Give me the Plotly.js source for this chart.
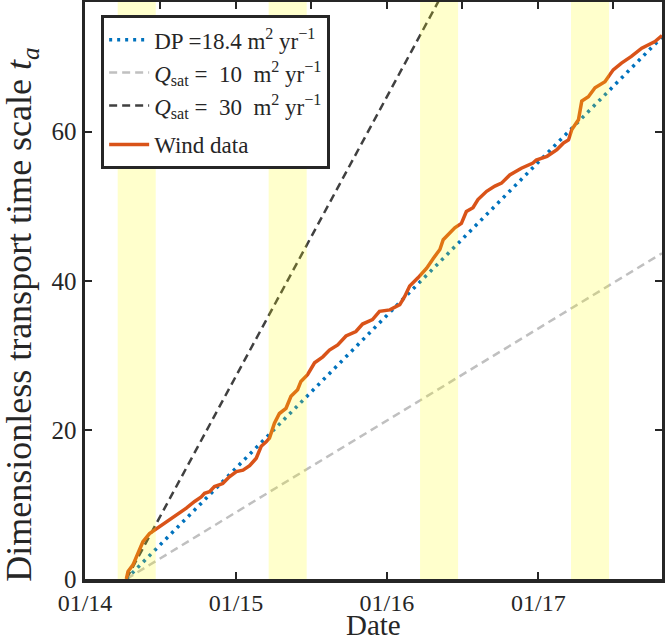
<!DOCTYPE html>
<html>
<head>
<meta charset="utf-8">
<script src="https://cdn.plot.ly/plotly-3.0.1.min.js"></script>
<style>
  html, body { margin: 0; padding: 0; background: #fff; }
  #chart { width: 665px; height: 642px; }
</style>
</head>
<body>
<div id="chart"></div>
<script>
    'use strict';

    // Wind data: cumulative dimensionless transport time scale
    const windDates = [
        '2014-04-11', '2014-04-15', '2014-04-27', '2014-05-09', '2014-05-21', '2014-06-06',
        '2014-06-22', '2014-07-16', '2014-08-09', '2014-09-03', '2014-09-23', '2014-10-09',
        '2014-10-17', '2014-10-29', '2014-11-10', '2014-11-30', '2014-12-16', '2015-01-02',
        '2015-01-18', '2015-02-03', '2015-02-19', '2015-03-03', '2015-03-15', '2015-03-23',
        '2015-04-04', '2015-04-16', '2015-05-02', '2015-05-14', '2015-05-30', '2015-06-07',
        '2015-06-23', '2015-07-10', '2015-07-30', '2015-08-15', '2015-09-04', '2015-09-24',
        '2015-10-18', '2015-11-03', '2015-11-27', '2015-12-14', '2016-01-08', '2016-02-01',
        '2016-02-13', '2016-02-25', '2016-03-16', '2016-04-06', '2016-04-22', '2016-05-08',
        '2016-05-16', '2016-06-13', '2016-06-29', '2016-07-11', '2016-07-27', '2016-08-08',
        '2016-08-29', '2016-09-18', '2016-10-04', '2016-10-24', '2016-11-21', '2016-12-19',
        '2016-12-27', '2017-01-22', '2017-02-15', '2017-03-03', '2017-03-15', '2017-03-23',
        '2017-04-08', '2017-04-16', '2017-05-02', '2017-05-18', '2017-06-11', '2017-07-01',
        '2017-07-21', '2017-08-14', '2017-09-08', '2017-09-28', '2017-10-10', '2017-10-27'
    ];
    const windValues = [
        0, 1.0, 1.9, 3.4, 5.0, 6.1,
        6.7, 7.7, 8.6, 9.5, 10.4, 11.0,
        11.5, 11.7, 12.4, 12.8, 13.7, 14.4,
        14.6, 15.2, 16.2, 17.8, 18.4, 18.9,
        20.9, 22.2, 22.9, 24.5, 25.4, 26.5,
        27.4, 29.0, 29.8, 30.7, 31.4, 32.6,
        33.2, 34.2, 34.8, 35.9, 36.1, 36.8,
        37.9, 39.3, 40.4, 41.7, 43.0, 44.2,
        45.5, 47.1, 47.7, 49.3, 49.8, 50.9,
        52.0, 52.7, 53.1, 54.2, 55.1, 55.8,
        56.2, 56.7, 57.6, 58.5, 58.9, 60.3,
        61.6, 64.1, 64.7, 65.9, 66.7, 68.3,
        69.2, 70.1, 71.2, 71.7, 72.1, 72.9
    ];

    // straight reference lines: start and end of record
    const lineDates = ['2014-04-11', '2017-10-27'];
    const dpValues = [0, 72.7];
    const q10Values = [0, 43.7];
    const q30Values = [0, 133];

    // spring periods (shaded)
    const bandStarts = ['2014-03-21', '2015-03-21', '2016-03-21', '2017-03-21'];
    const bandEnds = ['2014-06-21', '2015-06-21', '2016-06-21', '2017-06-21'];

    const xRange = ['2014-01-01', '2017-10-27'];
    const yRange = [0, 77.4];
    const yTicks = [0, 20, 40, 60];

    const FONT = '"Liberation Serif", "Times New Roman", serif';
    const AXIS_COLOR = '#262626';

    const data = [
        {
            type: 'scatter', mode: 'lines', x: lineDates, y: q10Values,
            name: '<i>Q</i><sub>sat</sub> =  10  m<sup>2</sup> yr<sup>\u22121</sup>',
            legendrank: 2, legendgroup: 'ref',
            line: {color: '#c0c0c0', width: 2.5, dash: '8px,5px'}
        },
        {
            type: 'scatter', mode: 'lines', x: lineDates, y: q30Values,
            name: '<i>Q</i><sub>sat</sub> =  30  m<sup>2</sup> yr<sup>\u22121</sup>',
            legendrank: 3, legendgroup: 'ref',
            line: {color: '#404040', width: 2.5, dash: '8px,5px'}
        },
        {
            type: 'scatter', mode: 'lines', x: lineDates, y: dpValues,
            name: 'DP =18.4 m<sup>2</sup> yr<sup>\u22121</sup>',
            legendrank: 1, legendgroup: 'ref',
            line: {color: '#0072BD', width: 3.5, dash: '3px,5px'}
        },
        {
            type: 'scatter', mode: 'lines', x: windDates, y: windValues,
            name: 'Wind data',
            legendrank: 4, legendgroup: 'wind',
            line: {color: '#D95319', width: 3.5}
        },
        // invisible trace that carries the half-year ticks on the top axis
        {
            type: 'scatter', mode: 'lines', x: xRange, y: yRange, xaxis: 'x2',
            showlegend: false, hoverinfo: 'skip', line: {width: 0}
        }
    ];

    const shapes = bandStarts.map((start, i) => ({
        type: 'rect', xref: 'x', yref: 'paper',
        x0: start, x1: bandEnds[i], y0: 0, y1: 1,
        fillcolor: '#ffff00', opacity: 0.2, line: {width: 0}, layer: 'above'
    }));

    // axis titles placed as annotations so they sit where the reference has them
    const annotations = [
        {
            text: 'Dimensionless transport time scale <i>t<sub>a</sub></i>',
            xref: 'paper', yref: 'paper', x: -0.109, y: 0.458,
            xanchor: 'center', yanchor: 'middle', textangle: -90, showarrow: false,
            font: {family: FONT, size: 36, color: AXIS_COLOR}
        },
        {
            text: 'Date',
            xref: 'paper', yref: 'paper', x: 0.5, y: -0.111,
            xanchor: 'center', yanchor: 'bottom', showarrow: false,
            font: {family: FONT, size: 29, color: AXIS_COLOR}
        }
    ];

    const layout = {
        width: 665,
        height: 642,
        margin: {l: 85, r: 3, t: 2, b: 63},
        paper_bgcolor: '#ffffff',
        plot_bgcolor: '#ffffff',
        font: {family: FONT, size: 25, color: AXIS_COLOR},
        showlegend: true,
        legend: {
            x: 0.028, y: 0.977, xanchor: 'left', yanchor: 'top',
            bgcolor: '#ffffff', bordercolor: AXIS_COLOR, borderwidth: 3,
            font: {family: FONT, size: 23, color: AXIS_COLOR},
            traceorder: 'grouped',
            tracegroupgap: 6,
            itemwidth: 40
        },
        xaxis: {
            type: 'date',
            range: xRange,
            tick0: '2014-01-01',
            dtick: 'M12',
            tickformat: '%m/%y',
            ticks: 'inside',
            ticklen: 7,
            tickwidth: 2,
            tickcolor: AXIS_COLOR,
            showline: true,
            linewidth: 3.5,
            linecolor: AXIS_COLOR,
            mirror: true,
            showgrid: false,
            zeroline: false,
            tickfont: {family: FONT, size: 24, color: AXIS_COLOR}
        },
        xaxis2: {
            type: 'date',
            overlaying: 'x',
            side: 'top',
            range: xRange,
            tick0: '2014-01-01',
            dtick: 'M6',
            ticks: 'inside',
            ticklen: 7,
            tickwidth: 2,
            tickcolor: AXIS_COLOR,
            showticklabels: false,
            showline: false,
            showgrid: false,
            zeroline: false
        },
        yaxis: {
            range: yRange,
            tickvals: yTicks,
            ticks: 'inside',
            ticklen: 7,
            tickwidth: 2,
            tickcolor: AXIS_COLOR,
            showline: true,
            linewidth: 3.5,
            linecolor: AXIS_COLOR,
            mirror: 'ticks',
            showgrid: false,
            zeroline: false,
            tickfont: {family: FONT, size: 25, color: AXIS_COLOR}
        },
        shapes: shapes,
        annotations: annotations
    };

    Plotly.newPlot('chart', data, layout, {staticPlot: true, displayModeBar: false});
</script>
</body>
</html>
